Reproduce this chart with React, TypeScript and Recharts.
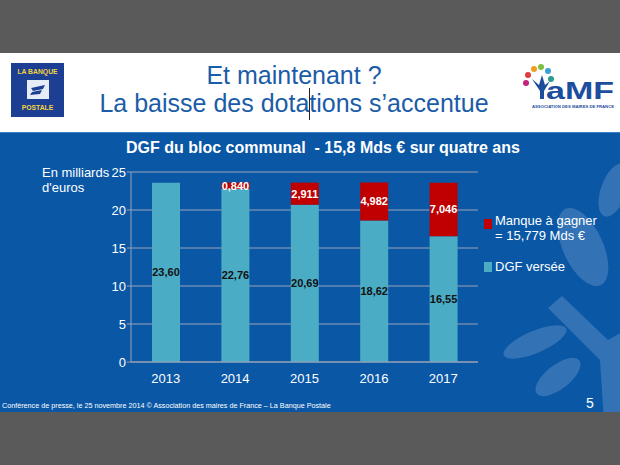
import React from "react";
import { BarChart, Bar, XAxis, YAxis, CartesianGrid, LabelList, Legend } from "recharts";

const years = ["2013", "2014", "2015", "2016", "2017"];
const dgfVersee = [23.6, 22.76, 20.69, 18.62, 16.55];
const manqueAGagner = [0, 0.84, 2.911, 4.982, 7.046];
const yTicks = [0, 5, 10, 15, 20, 25];
const seriesNames = ["DGF versée", "Manque à gagner"];
const manqueTotal = "= 15,779 Mds €";

const data = years.map((year, i) => ({
  year,
  dgf: dgfVersee[i],
  manque: manqueAGagner[i],
}));

const FONT = "'Liberation Sans', Arial, sans-serif";
const BLUE = "#0a57a6";
const TEAL = "#4bacc6";
const RED = "#c00000";

const fr = (v: number, d: number) => v.toFixed(d).replace(".", ",");

function LegendBox({ payload }: any) {
  const items = [...(payload || [])].reverse();
  return (
    <div style={{ fontFamily: FONT, fontSize: 13, color: "#fff", lineHeight: "15px" }}>
      {items.map((p: any) => (
        <div key={p.value} style={{ display: "flex", alignItems: "flex-start", marginBottom: 16 }}>
          <span
            style={{
              display: "inline-block",
              width: 8,
              height: 10,
              background: p.color,
              marginTop: p.value === seriesNames[1] ? 6 : 3,
              marginRight: 3,
            }}
          />
          <span>
            {p.value}
            {p.value === seriesNames[1] && (
              <>
                <br />
                {manqueTotal}
              </>
            )}
          </span>
        </div>
      ))}
    </div>
  );
}

export default function App() {
  const leaf = "rgba(255,255,255,0.17)";
  return (
    <div
      style={{
        position: "absolute",
        left: 0,
        top: 0,
        width: 620,
        height: 465,
        background: "#5a5a5a",
        overflow: "hidden",
        fontFamily: FONT,
      }}
    >
      {/* header band */}
      <div style={{ position: "absolute", left: 0, top: 53, width: 620, height: 79, background: "#fff" }}>
        <div
          style={{
            position: "absolute",
            left: 11,
            top: 10,
            width: 53,
            height: 54,
            background: "#1c3f94",
            color: "#f5d33c",
            fontWeight: "bold",
            fontSize: 8,
            textAlign: "center",
          }}
        >
          <div style={{ marginTop: 4, transform: "scaleX(0.85)" }}>LA BANQUE</div>
          <div style={{ width: 22, height: 19, background: "#e6ecf5", margin: "4px auto 4px" }}>
            <svg width={22} height={19}>
              <path d="M4 8 L18 5 L16 9 L6 11 Z M5 12 L15 10 L13 14 L3 15 Z" fill="#1c3f94" />
            </svg>
          </div>
          <div style={{ transform: "scaleX(0.85)" }}>POSTALE</div>
        </div>
        <div
          style={{
            position: "absolute",
            left: 0,
            top: 8,
            width: 588,
            textAlign: "center",
            color: "#1b5ca8",
            fontSize: 25,
            lineHeight: "28px",
          }}
        >
          Et maintenant ?<br />
          La baisse des dotations s’accentue
        </div>
        <div style={{ position: "absolute", left: 309, top: 35, width: 1, height: 32, background: "#222" }} />
        <svg style={{ position: "absolute", left: 518, top: 8 }} width={102} height={56}>
          <circle cx={10} cy={14} r={3} fill="#e23b3b" />
          <circle cx={16} cy={8} r={3} fill="#f29d1f" />
          <circle cx={23} cy={6} r={3} fill="#7bc043" />
          <circle cx={30} cy={10} r={3} fill="#3aa0d8" />
          <circle cx={8} cy={22} r={3} fill="#c2227a" />
          <circle cx={33} cy={18} r={3} fill="#2a9d8f" />
          <path d="M14 18 L22 30 L22 38 L26 38 L26 30 L32 20 L27 24 L24 14 L21 24 Z" fill="#1d4e9e" />
          <text
            x={28}
            y={38}
            fontFamily={FONT}
            fontWeight="bold"
            fontSize={24}
            fill="#1d4e9e"
            textLength={68}
            lengthAdjust="spacingAndGlyphs"
          >
            aMF
          </text>
          <text
            x={14}
            y={47}
            fontFamily={FONT}
            fontWeight="bold"
            fontSize={3.8}
            fill="#1d4e9e"
            textLength={82}
            lengthAdjust="spacingAndGlyphs"
          >
            ASSOCIATION DES MAIRES DE FRANCE
          </text>
        </svg>
      </div>

      {/* blue band */}
      <div
        style={{
          position: "absolute",
          left: 0,
          top: 132,
          width: 620,
          height: 280,
          background: BLUE,
          borderTop: "1px solid #3a7fc4",
          boxSizing: "border-box",
          overflow: "hidden",
        }}
      >
        <svg style={{ position: "absolute", left: 0, top: -1 }} width={620} height={281}>
          <path d="M548 176 L562 164 L608 208 L622 200 L622 290 L604 290 L600 228 Z" fill={leaf} />
          <ellipse cx={583} cy={115} rx={20} ry={42} transform="rotate(-25 583 115)" fill={leaf} />
          <ellipse cx={535} cy={210} rx={34} ry={11} transform="rotate(-23 535 210)" fill={leaf} />
          <ellipse cx={558} cy={245} rx={27} ry={12} transform="rotate(-38 558 245)" fill={leaf} />
          <ellipse cx={614} cy={58} rx={13} ry={28} transform="rotate(20 614 58)" fill={leaf} />
        </svg>

        <div
          style={{
            position: "absolute",
            left: 0,
            top: 6,
            width: 646,
            textAlign: "center",
            color: "#fff",
            fontWeight: "bold",
            fontSize: 16,
            whiteSpace: "pre",
          }}
        >
          {"DGF du bloc communal  - 15,8 Mds € sur quatre ans"}
        </div>
        <div style={{ position: "absolute", left: 42, top: 32, color: "#fff", fontSize: 13, lineHeight: "15px" }}>
          En milliards
          <br />
          d'euros
        </div>

        <div style={{ position: "absolute", left: 0, top: -1 }}>
          <BarChart
            width={620}
            height={280}
            data={data}
            margin={{ top: 40, right: 142, left: 91, bottom: 20 }}
          >
            <CartesianGrid vertical={false} stroke="#9aa3b5" />
            <XAxis
              dataKey="year"
              height={30}
              stroke="#9aa3b5"
              tickLine={false}
              tick={{ fill: "#fff", fontSize: 13, fontFamily: FONT }}
              tickMargin={6}
            />
            <YAxis
              width={40}
              domain={[0, 25]}
              ticks={yTicks}
              stroke="#9aa3b5"
              tickSize={4}
              tickMargin={1}
              tick={{ fill: "#fff", fontSize: 13, fontFamily: FONT }}
            />
            <Legend
              layout="vertical"
              align="center"
              verticalAlign="middle"
              wrapperStyle={{ left: 484, top: 81, width: 136 }}
              content={<LegendBox />}
            />
            <Bar dataKey="dgf" name={seriesNames[0]} stackId="a" fill={TEAL} barSize={28} isAnimationActive={false}>
              <LabelList
                dataKey="dgf"
                position="center"
                fill="#111"
                fontSize={11}
                fontWeight="bold"
                fontFamily={FONT}
                formatter={(v: any) => fr(Number(v), 2)}
              />
            </Bar>
            <Bar dataKey="manque" name={seriesNames[1]} stackId="a" fill={RED} barSize={28} isAnimationActive={false}>
              <LabelList
                dataKey="manque"
                position="center"
                fill="#fff"
                fontSize={11}
                fontWeight="bold"
                fontFamily={FONT}
                formatter={(v: any) => (Number(v) > 0 ? fr(Number(v), 3) : "")}
              />
            </Bar>
          </BarChart>
        </div>

        <div
          style={{
            position: "absolute",
            left: 2,
            top: 268,
            color: "#fff",
            fontSize: 8,
            whiteSpace: "nowrap",
            transform: "scaleX(0.9)",
            transformOrigin: "left top",
          }}
        >
          Conférence de presse, le 25 novembre 2014 © Association des maires de France – La Banque Postale
        </div>
        <div style={{ position: "absolute", left: 586, top: 262, color: "#fff", fontSize: 14 }}>5</div>
      </div>
    </div>
  );
}
